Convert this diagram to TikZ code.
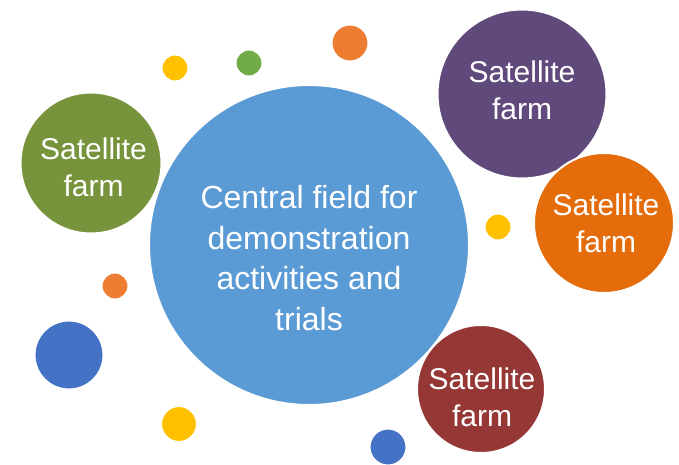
\documentclass[tikz,border=0pt]{standalone}
\usepackage{fontspec}
\setmainfont{Liberation Sans}
\definecolor{cblue}{HTML}{5B9BD5}
\definecolor{colive}{HTML}{77933C}
\definecolor{cpurple}{HTML}{604A7B}
\definecolor{corangeS}{HTML}{E46C0A}
\definecolor{cred}{HTML}{953735}
\definecolor{dyellow}{HTML}{FFC000}
\definecolor{dgreen}{HTML}{70AD47}
\definecolor{dorange}{HTML}{ED7D31}
\definecolor{dblue}{HTML}{4472C4}
\begin{document}
\begin{tikzpicture}[x=1pt,y=-1pt,
  bubble/.style={circle,draw=white,line width=2pt,inner sep=0pt},
  txt/.style={inner sep=0pt,text=white,align=center},
  satfont/.style={font=\fontsize{30}{37}\selectfont},
  cenfont/.style={font=\fontsize{32}{40.7}\selectfont}]
\useasboundingbox (0,0) rectangle (679,465);
% satellites behind the centre
\node[bubble,fill=colive,minimum size=141pt] (green) at (91,163) {};
\node[txt,satfont] (greentext) at ([shift={(2.5,4.5)}]green.center) {Satellite\\farm};
\node[bubble,fill=cpurple,minimum size=169pt] (purple) at (522,94) {};
\node[txt,satfont] (purpletext) at ([shift={(0,-4)}]purple.center) {Satellite\\farm};
\node[bubble,fill=corangeS,minimum size=140pt] (orange) at (604,223) {};
\node[txt,satfont] (orangetext) at ([shift={(2,0)}]orange.center) {Satellite\\farm};
% centre
\node[bubble,fill=cblue,minimum size=320pt] (centre) at (309,245) {};
\node[txt,cenfont] (centretext) at ([shift={(0,13)}]centre.center) {Central field for\\demonstration\\activities and\\trials};
\node[bubble,fill=cred,minimum size=128pt] (red) at (481,389) {};
\node[txt,satfont] (redtext) at ([shift={(1,8.5)}]red.center) {Satellite\\farm};
% dots
\node[bubble,fill=dyellow,minimum size=27pt] (d1) at (175,68) {};
\node[bubble,fill=dgreen,minimum size=27pt] (d2) at (249,63) {};
\node[bubble,fill=dorange,minimum size=37pt] (d3) at (350,43) {};
\node[bubble,fill=dyellow,minimum size=27pt] (d4) at (498,227) {};
\node[bubble,fill=dorange,minimum size=27pt] (d5) at (115,286) {};
\node[bubble,fill=dblue,minimum size=69pt] (d6) at (69,355) {};
\node[bubble,fill=dyellow,minimum size=36pt] (d7) at (179,424) {};
\node[bubble,fill=dblue,minimum size=37pt] (d8) at (388,447) {};
\end{tikzpicture}
\end{document}
